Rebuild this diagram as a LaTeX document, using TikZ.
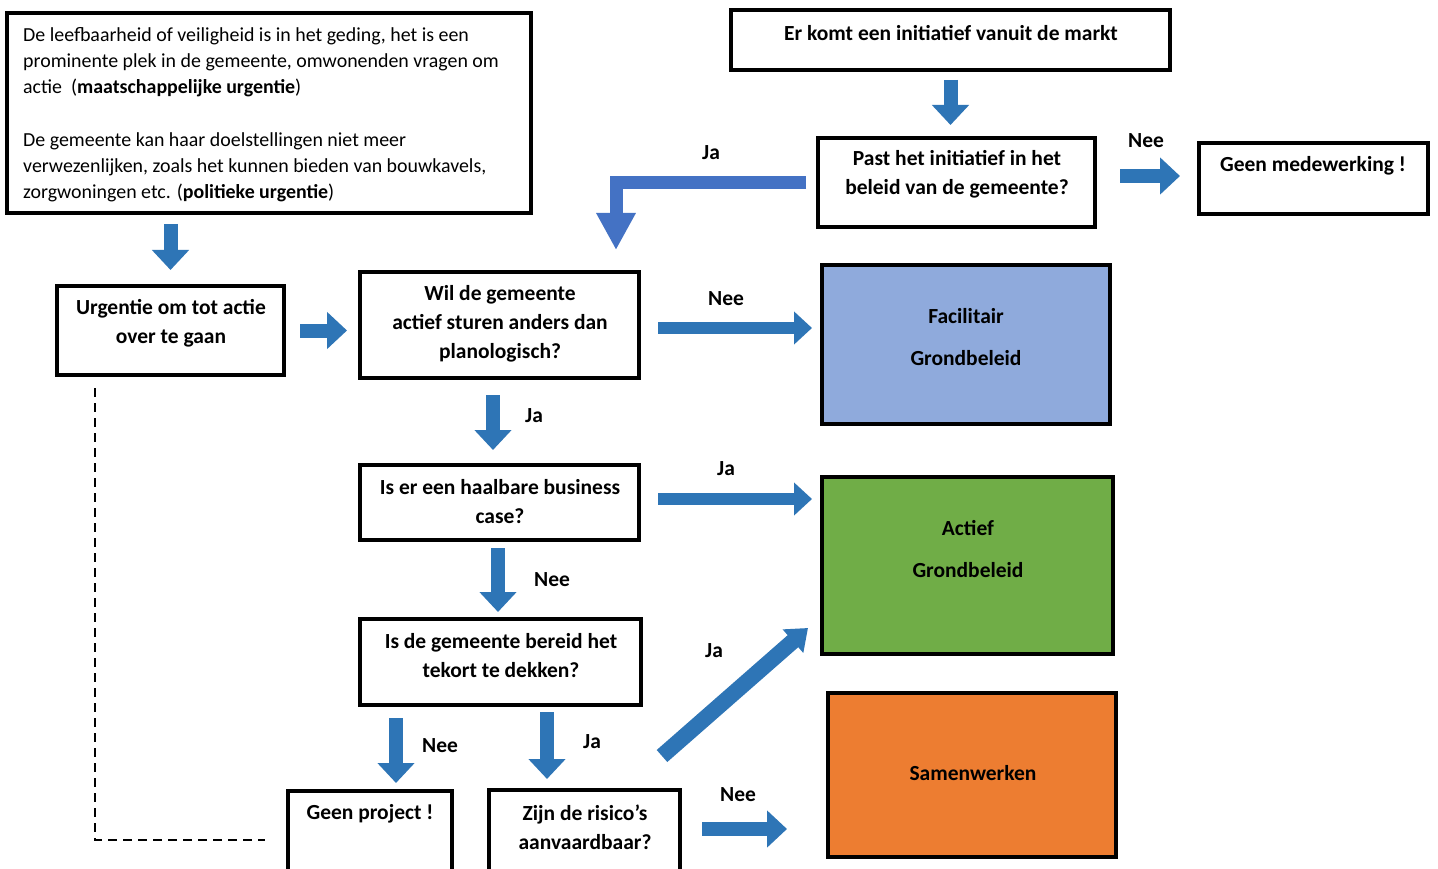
\documentclass[tikz,border=0pt]{standalone}
\usepackage{fontspec}
\setmainfont{Carlito}
\usetikzlibrary{arrows.meta,calc}
\definecolor{arrowblue}{HTML}{2E75B6}
\definecolor{lblue}{HTML}{4472C4}
\definecolor{facil}{HTML}{8FAADC}
\definecolor{actief}{HTML}{70AD47}
\definecolor{samen}{HTML}{ED7D31}
\tikzset{
  frame/.style={draw=black, line width=3.2pt, inner sep=0pt, outer sep=0pt, anchor=north west},
  btext/.style={font=\fontsize{21.5}{29}\selectfont\bfseries, align=center, inner sep=0pt},
  lbl/.style={font=\fontsize{21.5}{24}\selectfont\bfseries, inner sep=0pt},
  barrow/.style={draw=arrowblue, line width=14pt, -{Triangle[width=36pt,length=20pt]}},
}
\begin{document}
\begin{tikzpicture}[x=1pt,y=1pt]
\useasboundingbox (0,0) rectangle (1438,-869);
\fill[white] (0,0) rectangle (1438,-869);
% frames
\node[frame, minimum width=524, minimum height=200] (A) at (7,-13) {};
\node[frame, minimum width=439, minimum height=60] (B) at (731,-10) {};
\node[frame, minimum width=277, minimum height=89] (C) at (818,-138) {};
\node[frame, minimum width=229, minimum height=71] (D) at (1199,-143) {};
\node[frame, minimum width=227, minimum height=89] (E) at (57,-286) {};
\node[frame, minimum width=279, minimum height=106] (F) at (360,-272) {};
\node[frame, fill=facil, minimum width=288, minimum height=159] (G) at (822,-265) {};
\node[frame, minimum width=279, minimum height=75] (H) at (360,-465) {};
\node[frame, fill=actief, minimum width=291, minimum height=177] (I) at (822,-477) {};
\node[frame, minimum width=281, minimum height=86] (J) at (360,-619) {};
\node[frame, minimum width=164, minimum height=89] (K) at (288,-791) {};
\node[frame, minimum width=191, minimum height=90] (L) at (489,-790) {};
\node[frame, fill=samen, minimum width=288, minimum height=164] (M) at (828,-693) {};
% texts
\node[anchor=north west, inner sep=0pt, align=left,
      font=\fontsize{19.9}{26.2}\selectfont] (At) at (23,-27)
  {De leefbaarheid of veiligheid is in het geding, het is een\\
   prominente plek in de gemeente, omwonenden vragen om\\
   actie\ \ (\textbf{maatschappelijke urgentie})\\[26.2pt]
   De gemeente kan haar doelstellingen niet meer\\
   verwezenlijken, zoals het kunnen bieden van bouwkavels,\\
   zorgwoningen etc. (\textbf{politieke urgentie})};
\node[btext] (Bt) at (951,-33) {Er komt een initiatief vanuit de markt};
\node[btext] (Ct) at (957,-174) {Past het initiatief in het\\beleid van de gemeente?};
\node[btext] (Dt) at (1313,-166) {Geen medewerking !};
\node[btext] (Et) at (171,-323) {Urgentie om tot actie\\over te gaan};
\node[btext] (Ft) at (500,-324) {Wil de gemeente\\actief sturen anders dan\\planologisch?};
\node[btext, font=\fontsize{21.5}{42}\selectfont\bfseries] (Gt) at (966,-337) {Facilitair\\Grondbeleid};
\node[btext] (Ht) at (500,-502) {Is er een haalbare business\\case?};
\node[btext, font=\fontsize{21.5}{42}\selectfont\bfseries] (It) at (968,-549) {Actief\\Grondbeleid};
\node[btext] (Jt) at (501,-656) {Is de gemeente bereid het\\tekort te dekken?};
\node[btext] (Kt) at (370,-814) {Geen project !};
\node[btext] (Lt) at (585,-827) {Zijn de risico’s\\aanvaardbaar?};
\node[btext] (Mt) at (973,-773) {Samenwerken};
% labels
\node[lbl] (l1) at (1146,-141) {Nee};
\node[lbl] (l2) at (711,-153) {Ja};
\node[lbl] (l3) at (726,-299) {Nee};
\node[lbl] (l4) at (534,-416) {Ja};
\node[lbl] (l5) at (726,-469) {Ja};
\node[lbl] (l6) at (552,-580) {Nee};
\node[lbl] (l7) at (714,-651) {Ja};
\node[lbl] (l8) at (440,-746) {Nee};
\node[lbl] (l9) at (592,-742) {Ja};
\node[lbl] (l10) at (738,-795) {Nee};
% arrows
\draw[barrow] ([yshift=-10pt]B.south) -- ([yshift=13pt]B.south |- C.north);
\draw[barrow] ([xshift=25pt,yshift=6.5pt]C.east) -- ([xshift=-19pt,yshift=2.5pt]D.west);
\draw[draw=lblue, line width=13pt, line join=miter, -{Triangle[width=37pt,length=37pt]}]
  ([xshift=-12pt]C.west) -| ([xshift=-23pt,yshift=22pt]F.north east);
\draw[barrow] ([yshift=-11pt]E.north |- A.south) -- ([yshift=16pt]E.north);
\draw[barrow] ([xshift=16pt]E.east) -- ([xshift=-13pt]F.west |- E.east);
\draw[barrow, line width=12pt, -{Triangle[width=32pt,length=18pt]}] ([xshift=19pt,yshift=-3pt]F.east) -- ([xshift=-10pt,yshift=16.5pt]G.west);
\draw[barrow] ([xshift=-6.5pt,yshift=-17pt]F.south) -- ([xshift=-6.5pt,yshift=15pt]H.north);
\draw[barrow, line width=12pt, -{Triangle[width=32pt,length=18pt]}] ([xshift=19pt,yshift=3.5pt]H.east) -- ([xshift=-10pt,yshift=66.5pt]I.west);
\draw[barrow] ([xshift=-1.5pt,yshift=-8pt]H.south) -- ([xshift=-2.5pt,yshift=7pt]J.north);
\draw[barrow] ([xshift=36pt,yshift=-13pt]J.south west) -- ([xshift=26pt,yshift=8pt]K.north);
\draw[barrow] ([xshift=46.5pt,yshift=-7pt]J.south) -- ([xshift=-37.5pt,yshift=11pt]L.north);
\draw[barrow, line width=16pt, -{Triangle[width=30pt,length=20pt]}] ([xshift=-18pt,yshift=34pt]L.north east) -- ([xshift=-14pt,yshift=26pt]I.south west);
\draw[barrow] ([xshift=22pt,yshift=6pt]L.east) -- ([xshift=-41pt,yshift=-54pt]M.west);
% dashed
\draw[line width=2pt, dash pattern=on 9pt off 6pt] ([xshift=38pt,yshift=-13pt]E.south west) |- ([xshift=-23pt,yshift=-4.5pt]K.west);
\end{tikzpicture}
\end{document}
